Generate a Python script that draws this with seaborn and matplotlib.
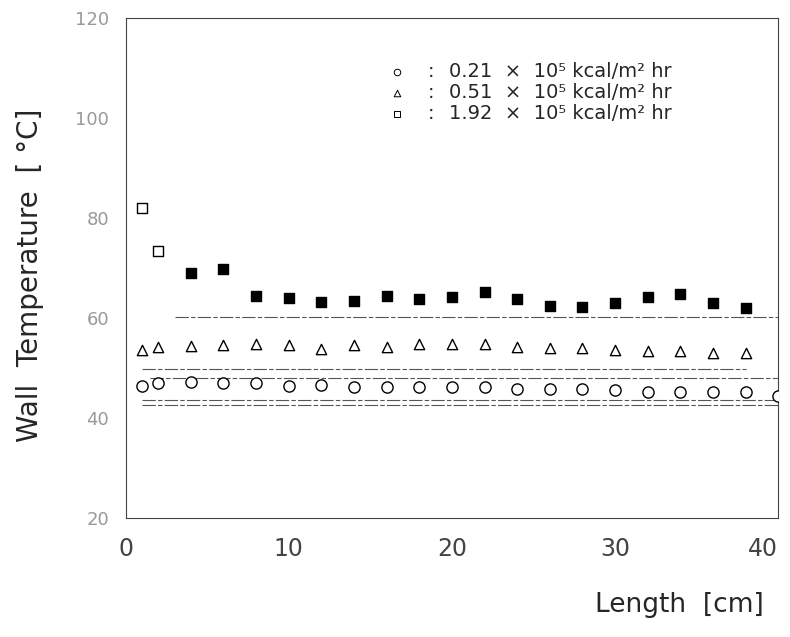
import numpy as np
import pandas as pd
import seaborn as sns
import matplotlib.pyplot as plt

sns.set_style('white')
plt.rcParams['font.family'] = ['DejaVu Sans']

# ---------------------------------- data ----------------------------------
# length positions [cm]
x_pts = [1, 2, 4, 6, 8, 10, 12, 14, 16, 18, 20, 22, 24, 26, 28, 30, 32, 34, 36, 38]
x_circ = x_pts + [40]

# wall temperature [C]
t_021 = [46.4, 47.0, 47.2, 47.0, 47.0, 46.4, 46.6, 46.2, 46.2, 46.2,
         46.2, 46.2, 45.8, 45.8, 45.8, 45.6, 45.2, 45.2, 45.2, 45.2, 44.4]
t_051 = [53.6, 54.2, 54.4, 54.6, 54.8, 54.6, 53.8, 54.6, 54.2, 54.8,
         54.8, 54.8, 54.2, 54.0, 54.0, 53.6, 53.4, 53.4, 53.0, 53.0]
t_192 = [82.0, 73.4, 69.0, 69.8, 64.4, 64.0, 63.2, 63.4, 64.4, 63.8,
         64.2, 65.2, 63.8, 62.4, 62.2, 63.0, 64.2, 64.8, 63.0, 62.0]
filled_192 = [False, False] + [True] * 18

# faint horizontal reference lines in the scan
ref_y = [60.2, 49.8, 48.0, 43.5, 42.5]
ref_x0 = [3, 1, 1.5, 1, 1]
ref_x1 = [40, 38, 40, 40, 40]

legend_labels = ['0.21  \u00d7  10\u2075 kcal/m\u00b2 hr',
                 '0.51  \u00d7  10\u2075 kcal/m\u00b2 hr',
                 '1.92  \u00d7  10\u2075 kcal/m\u00b2 hr']

df_c = pd.DataFrame({'x': x_circ, 'T': t_021})
df_t = pd.DataFrame({'x': x_pts, 'T': t_051})
df_s = pd.DataFrame({'x': x_pts, 'T': t_192, 'filled': filled_192})

# ---------------------------------- plot ----------------------------------
fig = plt.figure(figsize=(7.9, 6.37), dpi=100)
ax = fig.add_axes([0.159, 0.187, 0.826, 0.785])

for y, a, b in zip(ref_y, ref_x0, ref_x1):
    ax.plot([a, b], [y, y], color='#555555', lw=0.8, ls=(0, (12, 2, 4, 2)))

sns.scatterplot(data=df_c, x='x', y='T', ax=ax, marker='o', s=65,
                facecolor='white', edgecolor='black', linewidth=1.0, zorder=3)
sns.scatterplot(data=df_t, x='x', y='T', ax=ax, marker='^', s=55,
                facecolor='white', edgecolor='black', linewidth=1.0, zorder=3)
sns.scatterplot(data=df_s[df_s['filled']], x='x', y='T', ax=ax, marker='s', s=60,
                color='black', edgecolor='black', linewidth=1.0, zorder=3)
sns.scatterplot(data=df_s[~df_s['filled']], x='x', y='T', ax=ax, marker='s', s=60,
                facecolor='white', edgecolor='black', linewidth=1.0, zorder=3)

ax.set_xlim(0, 40)
ax.set_ylim(20, 120)
ax.set_xticks([0, 10, 20, 30, 40])
ax.set_yticks([20, 40, 60, 80, 100, 120])
ax.tick_params(axis='x', direction='in', length=7, width=0.8, pad=14,
               labelsize=17, labelcolor='#444444')
ax.tick_params(axis='y', direction='in', length=7, width=0.8, pad=12,
               labelsize=13, labelcolor='#999999')
ax.get_xticklabels()[-1].set_ha('right')
ax.set_xlabel('')
ax.set_ylabel('')
for sp in ax.spines.values():
    sp.set_linewidth(0.8)
    sp.set_color('#444444')

# legend drawn as text inside the axes
leg_markers = ['o', '^', 's']
for i, (m, lab) in enumerate(zip(leg_markers, legend_labels)):
    yy = 0.892 - i * 0.042
    ax.scatter([0.416], [yy], transform=ax.transAxes, marker=m, s=22,
               facecolor='white', edgecolor='black', linewidth=0.7)
    ax.text(0.468, yy, ':', transform=ax.transAxes, fontsize=14,
            ha='center', va='center')
    ax.text(0.496, yy, lab, transform=ax.transAxes, fontsize=14,
            ha='left', va='center')

fig.text(0.038, 0.568, 'Wall  Temperature  [ \u00b0C]', rotation=90,
         fontsize=20, ha='center', va='center')
fig.text(0.86, 0.05, 'Length  [cm]', fontsize=19, ha='center', va='center')

fig.savefig('out.png', dpi=100)
